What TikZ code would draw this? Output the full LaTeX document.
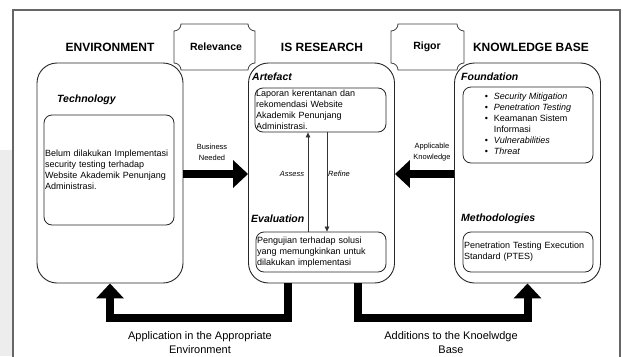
\documentclass[tikz,border=0pt]{standalone}
\usepackage{fontspec}
\setmainfont{Liberation Sans}
\usetikzlibrary{arrows.meta}
\begin{document}
\begin{tikzpicture}[x=1pt,y=-1pt,
  mainbox/.style={draw=black!85, line width=0.9pt, rounded corners=20pt, fill=white, inner sep=0pt, minimum width=146pt, minimum height=220pt},
  ibox/.style={draw=black!85, line width=0.8pt, rounded corners=8pt, fill=white, inner xsep=1pt, inner ysep=0pt, align=left, font=\fontsize{9}{11}\selectfont},
  head/.style={font=\bfseries\fontsize{12}{14}\selectfont, inner sep=0pt},
  tabtext/.style={font=\bfseries\fontsize{10.5}{12}\selectfont, inner sep=0pt},
  tabline/.style={draw=black!75, line width=0.8pt, fill=white},
  lab/.style={font=\bfseries\itshape\fontsize{10.5}{12}\selectfont, anchor=west, inner sep=0pt},
  small/.style={font=\fontsize{7.5}{11}\selectfont, align=center, inner sep=0pt},
  smallit/.style={font=\itshape\fontsize{7.5}{11}\selectfont, inner sep=0pt},
  block/.style={line width=8pt, draw=black, line join=miter, -{Triangle[length=15pt,width=27pt]}},
  loop/.style={line width=0.7pt, draw=black!80, -{Triangle[length=5pt,width=4.5pt]}},
  foot/.style={font=\fontsize{11}{14}\selectfont, align=center, inner sep=0pt}
]
\useasboundingbox (0,0) rectangle (623,356);
\clip (0,0) rectangle (623,356);
\fill[white] (0,0) rectangle (623,356);
\fill[black!7] (0,150) rectangle (12,356);
% outer frame
\draw[black!60, line width=1.3pt] (13,380) -- (13,10) -- (620,10) -- (620,380);

% tabs
\draw[tabline] (174,31) arc[start angle=90,end angle=0,radius=7] -- (248,24)
  arc[start angle=180,end angle=90,radius=7] -- (255,63)
  arc[start angle=270,end angle=180,radius=7] -- (181,70)
  arc[start angle=360,end angle=270,radius=7] -- cycle;
\draw[tabline] (391,31) arc[start angle=90,end angle=0,radius=7] -- (457,24)
  arc[start angle=180,end angle=90,radius=7] -- (464,63)
  arc[start angle=270,end angle=180,radius=7] -- (398,70)
  arc[start angle=360,end angle=270,radius=7] -- cycle;
\node[tabtext] (rel) at (216,47) {Relevance};
\node[tabtext] (rig) at (427,47) {Rigor};

% headers
\node[head] (henv) at (110,47) {ENVIRONMENT};
\node[head] (hisr) at (322,47) {IS RESEARCH};
\node[head] (hkb) at (531,47) {KNOWLEDGE BASE};

% main boxes
\node[mainbox] (env) at (110,173) {};
\node[mainbox] (isr) at (321.5,173) {};
\node[mainbox] (kb) at (527.5,173) {};

% labels
\node[lab] (ltech) at (57,100) {Technology};
\node[lab] (lart) at (252,77) {Artefact};
\node[lab] (leval) at (251,219) {Evaluation};
\node[lab] (lfound) at (461,77) {Foundation};
\node[lab] (lmeth) at (461,219) {Methodologies};

% inner boxes
\node[ibox, text width=128pt, minimum height=110pt] (techbox) at (109,170)
  {Belum dilakukan Implementasi\\security testing terhadap\\Website Akademik Penunjang\\Administrasi.};
\node[ibox, text width=129pt, minimum height=44pt] (artbox) at (320.5,110)
  {Laporan kerentanan dan\\rekomendasi Website\\Akademik Penunjang\\Administrasi.};
\node[ibox, text width=128pt, minimum height=40pt] (evalbox) at (321,252)
  {Pengujian terhadap solusi\\yang memungkinkan untuk\\dilakukan implementasi};
\node[ibox, align=center, minimum width=130pt, minimum height=76pt] (foundbox) at (528,125)
  {\begin{tabular}{@{}l@{\hspace{6pt}}l@{}}
   \textbullet & \textit{Security Mitigation}\\
   \textbullet & \textit{Penetration Testing}\\
   \textbullet & Keamanan Sistem\\
               & Informasi\\
   \textbullet & \textit{Vulnerabilities}\\
   \textbullet & \textit{Threat}
   \end{tabular}};
\node[ibox, text width=128pt, minimum height=40pt] (methbox) at (528,252)
  {Penetration Testing Execution\\Standard (PTES)};

% side arrows
\coordinate (ay) at (0,174);
\draw[block] (env.east |- ay) -- (isr.west |- ay);
\draw[block] (kb.west |- ay) -- (isr.east |- ay);
\node[small] (tbn) at (212,152.5) {Business\\Needed};
\node[small] (tak) at (432,152.5) {Applicable\\Knowledge};

% assess / refine
\coordinate (xa) at (308,0);
\coordinate (xr) at (327,0);
\draw[loop] (evalbox.north -| xa) -- (artbox.south -| xa);
\draw[loop] (artbox.south -| xr) -- (evalbox.north -| xr);
\node[smallit] (tas) at (292,174) {Assess};
\node[smallit] (tre) at (339,174) {Refine};

% bottom arrows
\coordinate (dl) at (288,318);
\coordinate (dr) at (358,318);
\draw[block] (isr.south -| dl) -- (dl) -| (env.south);
\draw[block] (isr.south -| dr) -- (dr) -| (kb.south);
\node[foot] (fl) at (200,343) {Application in the Appropriate\\Environment};
\node[foot] (fr) at (451,343) {Additions to the Knoelwdge\\Base};
\end{tikzpicture}
\end{document}
